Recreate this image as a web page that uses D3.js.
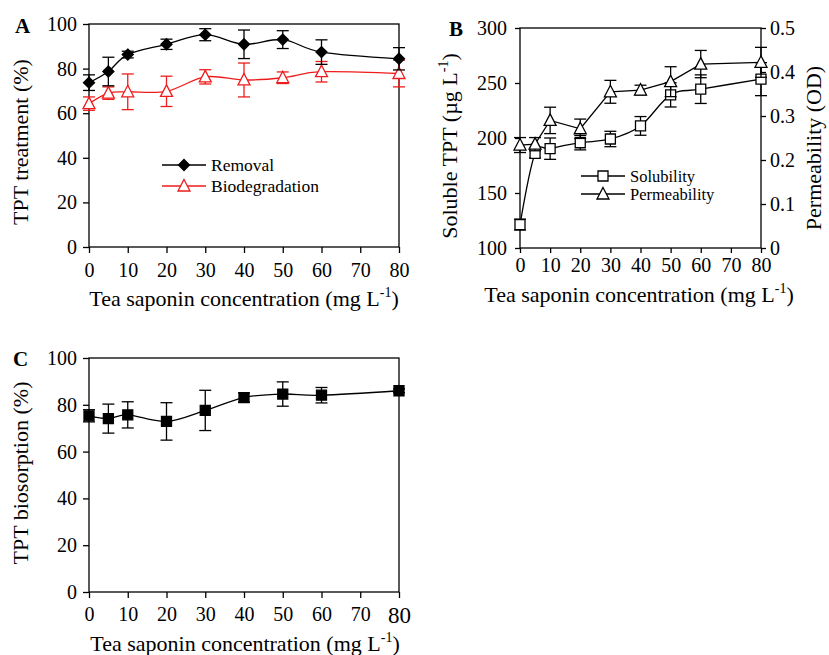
<!DOCTYPE html>
<html>
<head>
<meta charset="utf-8">
<script src="https://cdn.jsdelivr.net/npm/d3@7"></script>
<style>
  body { margin: 0; background: #fff; }
  svg { display: block; }
</style>
</head>
<body>
<svg id="chart" width="829" height="655"></svg>
<script>
// tea saponin concentrations (mg/L)
const conc = [0, 5, 10, 20, 30, 40, 50, 60, 80];
const xTicks = [0, 10, 20, 30, 40, 50, 60, 70, 80];

// panel A
const removal = [73.7, 78.7, 86.3, 90.9, 95.2, 90.9, 93.0, 87.4, 84.4];
const removalErr = [3.5, 6.4, 1.5, 2.3, 2.7, 6.4, 4.0, 5.5, 5.0];
const biodeg = [64.3, 69.0, 69.6, 69.8, 76.3, 74.9, 75.9, 78.6, 77.8];
const biodegErr = [3.0, 2.8, 8.0, 6.8, 3.2, 7.6, 2.6, 4.6, 6.0];
const pctTicks = [0, 20, 40, 60, 80, 100];

// panel B
const solubility = [121.3, 186.0, 190.3, 195.7, 199.1, 211.0, 239.2, 244.4, 253.5];
const solubilityErr = [5, 4, 9.7, 6.5, 7, 8.5, 11, 13, 15];
const permeability = [0.234, 0.236, 0.290, 0.271, 0.355, 0.359, 0.378, 0.418, 0.422];
const permeabilityErr = [0.017, 0.015, 0.030, 0.022, 0.026, 0.011, 0.034, 0.031, 0.034];
const solTicks = [100, 150, 200, 250, 300];
const permTicks = [0, 0.1, 0.2, 0.3, 0.4, 0.5];

// panel C
const biosorption = [75.3, 74.1, 75.7, 72.9, 77.6, 83.1, 84.6, 84.1, 86.0];
const biosorptionErr = [2.6, 6.2, 5.6, 8.0, 8.6, 2.0, 5.2, 3.3, 0.8];

const FONT = '"Liberation Serif", "Times New Roman", serif';
const svg = d3.select('#chart');
svg.append('rect').attr('width', 829).attr('height', 655).attr('fill', '#fff');

const smooth = d3.curveCardinal.tension(0);

function styleAxis(g, size) {
  g.attr('font-family', FONT).attr('font-size', size);
  g.selectAll('.domain').remove();
  g.selectAll('line').attr('stroke', '#000').attr('stroke-width', 1.3);
  g.selectAll('text').attr('fill', '#000');
}

function frame(g, x, y) {
  const [x0, x1] = x.range();
  const [y0, y1] = y.range();
  g.append('rect')
    .attr('x', x0).attr('y', y1).attr('width', x1 - x0).attr('height', y0 - y1)
    .attr('fill', 'none').attr('stroke', '#000').attr('stroke-width', 1.3);
}

function series(g, x, y, vals, errs, opts) {
  const pts = conc.map((c, i) => ({ c, v: vals[i], e: errs[i] }));
  g.append('path')
    .datum(pts)
    .attr('fill', 'none')
    .attr('stroke', opts.color)
    .attr('stroke-width', 1.3)
    .attr('d', d3.line().x(d => x(d.c)).y(d => y(d.v)).curve(opts.curve));

  const eb = g.append('g').attr('stroke', opts.color).attr('stroke-width', 1.3);
  pts.forEach(d => {
    const cx = x(d.c);
    eb.append('line').attr('x1', cx).attr('x2', cx).attr('y1', y(d.v - d.e)).attr('y2', y(d.v + d.e));
    eb.append('line').attr('x1', cx - 6).attr('x2', cx + 6).attr('y1', y(d.v - d.e)).attr('y2', y(d.v - d.e));
    eb.append('line').attr('x1', cx - 6).attr('x2', cx + 6).attr('y1', y(d.v + d.e)).attr('y2', y(d.v + d.e));
  });

  g.selectAll(null)
    .data(pts)
    .enter().append('path')
    .attr('transform', d => `translate(${x(d.c)},${y(d.v)})`)
    .attr('d', marker(opts.shape))
    .attr('fill', opts.fill)
    .attr('stroke', opts.color)
    .attr('stroke-width', 1.3);
}

function marker(shape) {
  if (shape === 'diamond') return 'M0,-5.5L5.5,0L0,5.5L-5.5,0Z';
  if (shape === 'triangle') return 'M0,-6.5L6,5L-6,5Z';
  return 'M-5,-5H5V5H-5Z';
}

function legend(g, x0, size, rows) {
  rows.forEach(r => {
    g.append('line').attr('x1', x0).attr('x2', x0 + 44).attr('y1', r.y).attr('y2', r.y)
      .attr('stroke', r.color).attr('stroke-width', 1.3);
    g.append('path').attr('transform', `translate(${x0 + 22},${r.y})`)
      .attr('d', marker(r.shape)).attr('fill', r.fill).attr('stroke', r.color).attr('stroke-width', 1.3);
    g.append('text').attr('x', x0 + 49).attr('y', r.y).attr('dy', '0.35em')
      .attr('font-family', FONT).attr('font-size', size).text(r.label);
  });
}

function xTitle(g, cx, by) {
  const t = g.append('text').attr('x', cx).attr('y', by)
    .attr('text-anchor', 'middle').attr('font-family', FONT).attr('font-size', 22);
  t.append('tspan').text('Tea saponin concentration (mg L');
  t.append('tspan').attr('dy', -9).attr('font-size', 14).text('-1');
  t.append('tspan').attr('dy', 9).text(')');
}

function yTitle(g, bx, cy, parts) {
  const t = g.append('text').attr('transform', `translate(${bx},${cy}) rotate(-90)`)
    .attr('text-anchor', 'middle').attr('font-family', FONT).attr('font-size', 22);
  parts.forEach(p => {
    const s = t.append('tspan').text(p.text);
    if (p.sup) s.attr('dy', -9).attr('font-size', 14);
    if (p.down) s.attr('dy', 9);
  });
}

function panelLabel(g, x, y, txt) {
  g.append('text').attr('x', x).attr('y', y).attr('font-family', FONT)
    .attr('font-size', 21).attr('font-weight', 'bold').text(txt);
}

// ---------- Panel A ----------
{
  const g = svg.append('g');
  const x = d3.scaleLinear().domain([0, 80]).range([89, 399]);
  const y = d3.scaleLinear().domain([0, 100]).range([247, 24]);

  g.append('g').attr('transform', 'translate(0,247)')
    .call(d3.axisBottom(x).tickValues(xTicks).tickSize(6).tickPadding(10).tickSizeOuter(0))
    .call(a => styleAxis(a, 20));
  g.append('g').attr('transform', 'translate(89,0)')
    .call(d3.axisLeft(y).tickValues(pctTicks).tickSize(6).tickPadding(6).tickSizeOuter(0))
    .call(a => styleAxis(a, 20));
  frame(g, x, y);

  series(g, x, y, biodeg, biodegErr, { color: '#ee1c1c', fill: '#fff', shape: 'triangle', curve: smooth });
  series(g, x, y, removal, removalErr, { color: '#000', fill: '#000', shape: 'diamond', curve: smooth });

  legend(g, 162, 17.5, [
    { y: 165, label: 'Removal', color: '#000', fill: '#000', shape: 'diamond' },
    { y: 186, label: 'Biodegradation', color: '#ee1c1c', fill: '#fff', shape: 'triangle' }
  ]);

  xTitle(g, 244, 306);
  yTitle(g, 28, 142, [{ text: 'TPT treatment (%)' }]);
  panelLabel(g, 15, 33, 'A');
}

// ---------- Panel B ----------
{
  const g = svg.append('g');
  const x = d3.scaleLinear().domain([0, 80]).range([520, 761]);
  const y = d3.scaleLinear().domain([100, 300]).range([248, 28]);
  const y2 = d3.scaleLinear().domain([0, 0.5]).range([248, 28]);

  g.append('g').attr('transform', 'translate(0,248)')
    .call(d3.axisBottom(x).tickValues(xTicks).tickSize(5).tickPadding(5).tickSizeOuter(0))
    .call(a => styleAxis(a, 20));
  g.append('g').attr('transform', 'translate(520,0)')
    .call(d3.axisLeft(y).tickValues(solTicks).tickSize(5).tickPadding(8).tickSizeOuter(0))
    .call(a => styleAxis(a, 20));
  g.append('g').attr('transform', 'translate(761,0)')
    .call(d3.axisRight(y2).tickValues(permTicks).tickSize(5).tickPadding(4).tickSizeOuter(0)
      .tickFormat(d => d === 0 ? '0' : d3.format('.1f')(d)))
    .call(a => styleAxis(a, 20));
  frame(g, x, y);

  series(g, x, y, solubility, solubilityErr, { color: '#000', fill: '#fff', shape: 'square', curve: smooth });
  series(g, x, y2, permeability, permeabilityErr, { color: '#000', fill: '#fff', shape: 'triangle', curve: d3.curveLinear });

  legend(g, 581, 16.5, [
    { y: 176, label: 'Solubility', color: '#000', fill: '#fff', shape: 'square' },
    { y: 194, label: 'Permeability', color: '#000', fill: '#fff', shape: 'triangle' }
  ]);

  xTitle(g, 639, 302);
  yTitle(g, 457, 146, [{ text: 'Soluble TPT (\u00b5g L' }, { text: '-1', sup: true }, { text: ')', down: true }]);
  yTitle(g, 821, 148, [{ text: 'Permeability (OD)' }]);
  panelLabel(g, 449, 36, 'B');
}

// ---------- Panel C ----------
{
  const g = svg.append('g');
  const x = d3.scaleLinear().domain([0, 80]).range([89, 399]);
  const y = d3.scaleLinear().domain([0, 100]).range([592, 358]);

  g.append('g').attr('transform', 'translate(0,592)')
    .call(d3.axisBottom(x).tickValues(xTicks).tickSize(6).tickPadding(9).tickSizeOuter(0))
    .call(a => styleAxis(a, 20))
    .call(a => a.selectAll('.tick text').filter(d => d === 80).attr('font-size', 23));
  g.append('g').attr('transform', 'translate(89,0)')
    .call(d3.axisLeft(y).tickValues(pctTicks).tickSize(6).tickPadding(6).tickSizeOuter(0))
    .call(a => styleAxis(a, 20));
  frame(g, x, y);

  series(g, x, y, biosorption, biosorptionErr, { color: '#000', fill: '#000', shape: 'square', curve: smooth });

  xTitle(g, 245, 651);
  yTitle(g, 28, 473, [{ text: 'TPT biosorption (%)' }]);
  panelLabel(g, 13, 366, 'C');
}
</script>
</body>
</html>
